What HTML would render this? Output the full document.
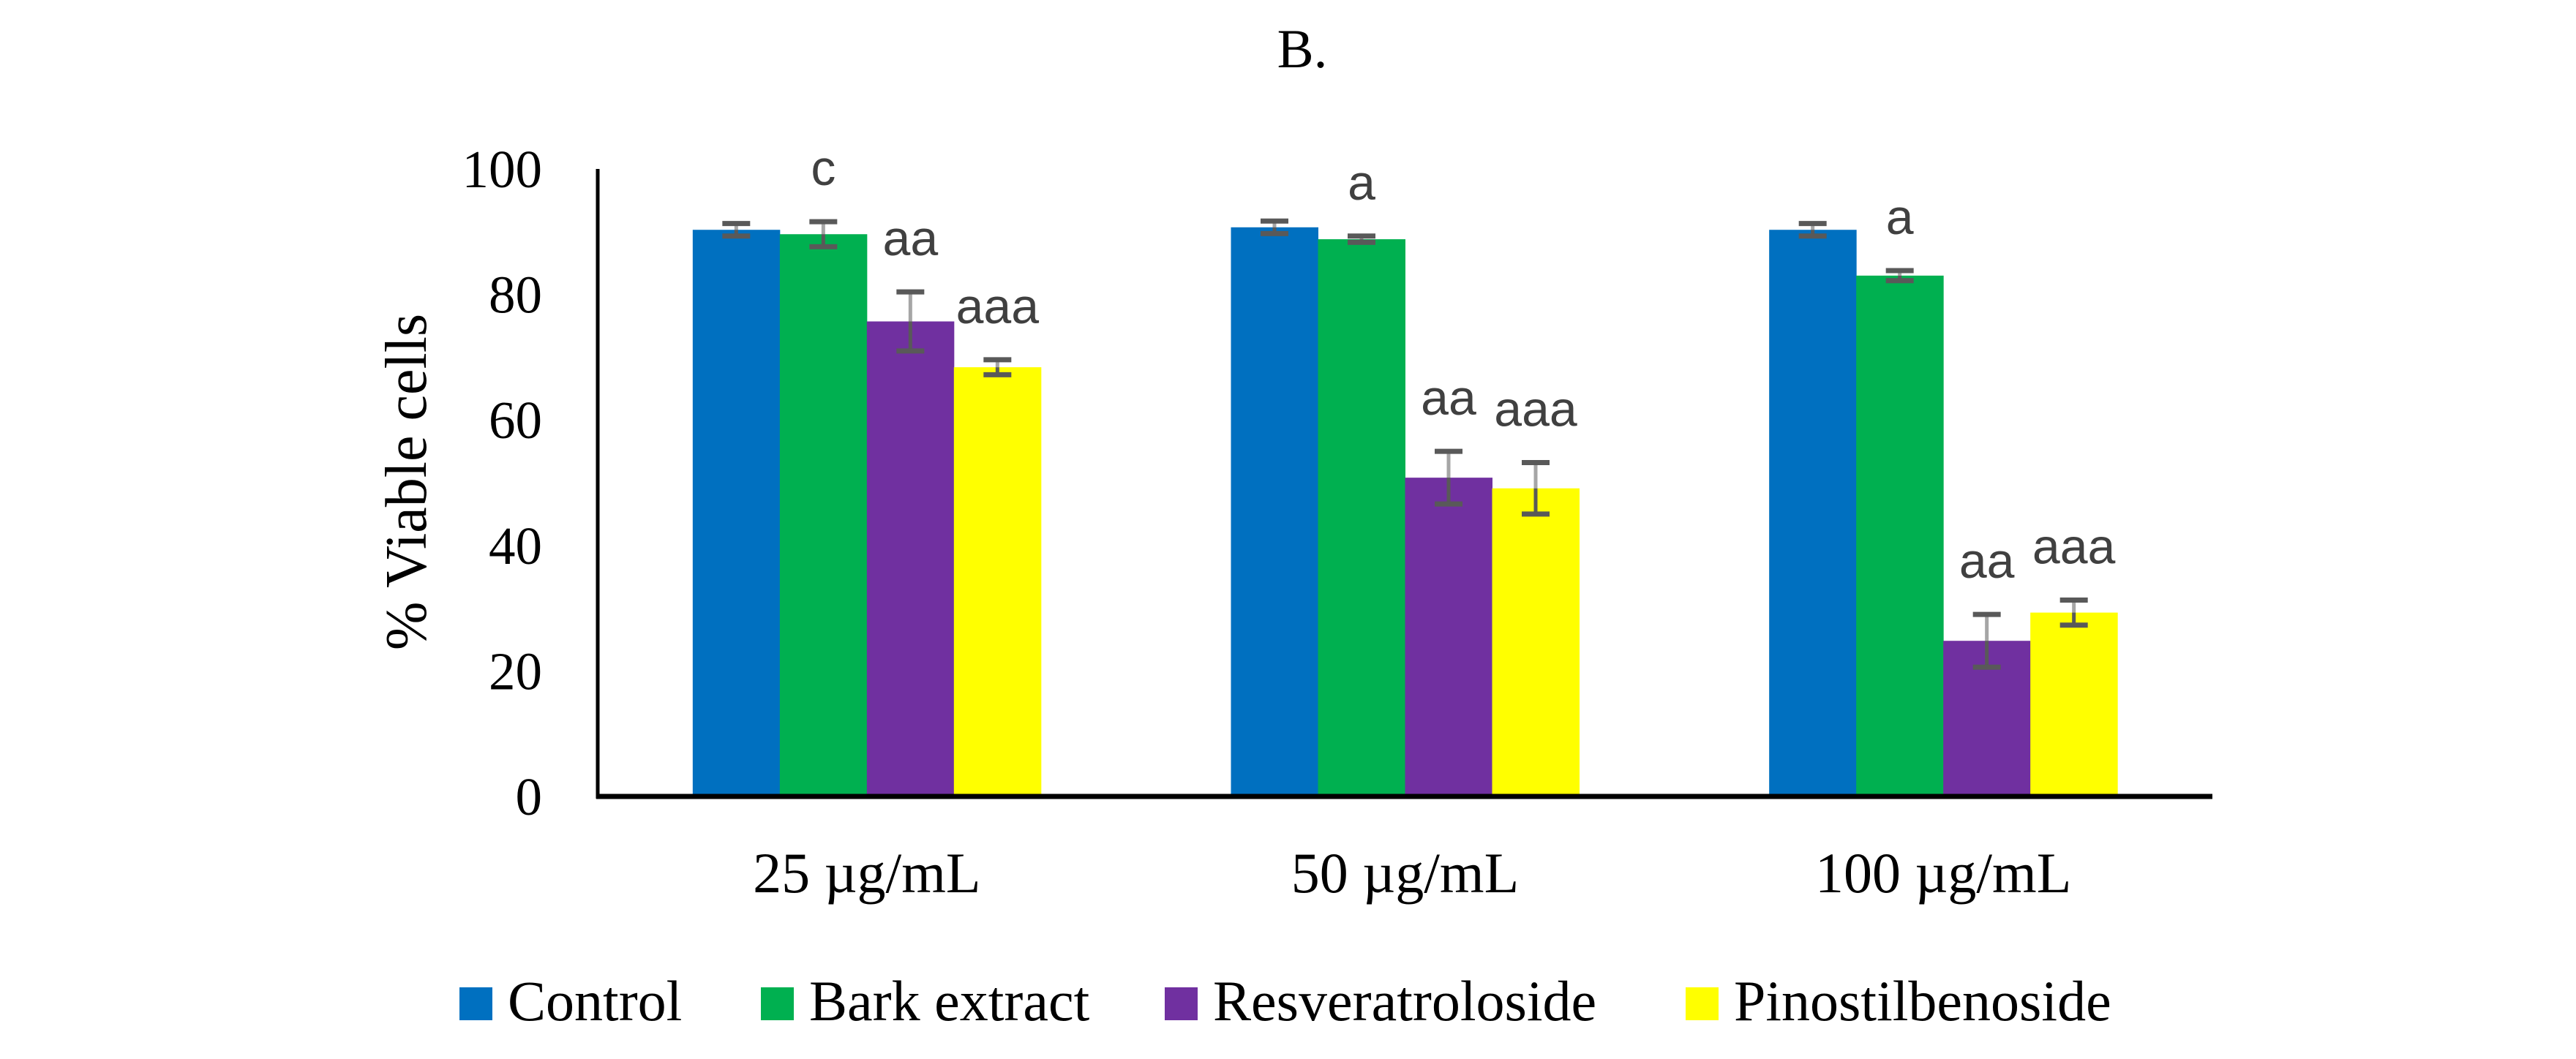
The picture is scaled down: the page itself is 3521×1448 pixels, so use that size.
<!DOCTYPE html>
<html><head><meta charset="utf-8"><style>
html,body{margin:0;padding:0;background:#fff;}
svg{display:block;}
</style></head><body>
<svg id="chart" width="3521" height="1448" viewBox="0 0 3521 1448" xmlns="http://www.w3.org/2000/svg">
<rect width="3521" height="1448" fill="#fff"/>
<text x="1780" y="92" font-family="Liberation Serif, serif" font-size="75" text-anchor="middle">B.</text>
<g id="plot"></g>
</svg>
<script>
const categories = ["25 µg/mL", "50 µg/mL", "100 µg/mL"];
const seriesNames = ["Control", "Bark extract", "Resveratroloside", "Pinostilbenoside"];
const controlValues = [90.3, 90.7, 90.3];
const barkValues = [89.6, 88.8, 83.0];
const resvValues = [75.7, 50.8, 24.8];
const pinoValues = [68.4, 49.1, 29.3];
const controlErr = [1.0, 1.0, 1.0];
const barkErr = [2.0, 0.5, 0.8];
const resvErr = [4.7, 4.2, 4.2];
const pinoErr = [1.2, 4.1, 2.0];
const barkLabels = ["c", "a", "a"];
const resvLabels = ["aa", "aa", "aa"];
const pinoLabels = ["aaa", "aaa", "aaa"];
const yTicks = [0, 20, 40, 60, 80, 100];

const colors = ["#0070c0", "#00b050", "#7030a0", "#ffff00"];
const values = [controlValues, barkValues, resvValues, pinoValues];
const errs = [controlErr, barkErr, resvErr, pinoErr];
const labels = [null, barkLabels, resvLabels, pinoLabels];
const NS = "http://www.w3.org/2000/svg";
const g = document.getElementById("plot");
const X0 = 817, X1 = 3024, Y0 = 1089, Ytop = 231;
const catW = (X1 - X0) / categories.length;
const barW = 119;
const y = v => Y0 - (v / 100) * (Y0 - Ytop);
const xBar = (c, s) => X0 + c * catW + (catW - 4 * barW) / 2 + s * barW;

function mk(tag, attrs) { const e = document.createElementNS(NS, tag); for (const k in attrs) e.setAttribute(k, attrs[k]); g.appendChild(e); return e; }

for (let s = 0; s < 4; s++) {
  for (let c = 0; c < categories.length; c++) {
    const v = values[s][c];
    const r = mk("rect", {x: xBar(c, s), y: y(v), width: barW + 0.5, height: Y0 - y(v), fill: colors[s]});
    
    
  }
}
for (let s = 0; s < 4; s++) {
  for (let c = 0; c < categories.length; c++) {
    const v = values[s][c], e = errs[s][c];
    const cx = xBar(c, s) + barW / 2;
    const eb = document.createElementNS(NS, "g");
    
    
    g.appendChild(eb);
    const add = (tag, a) => { const el = document.createElementNS(NS, tag); for (const k in a) el.setAttribute(k, a[k]); eb.appendChild(el); };
    add("line", {x1: cx, x2: cx, y1: y(v + e), y2: y(v), stroke: "#a6a6a6", "stroke-width": 5});
    add("line", {x1: cx, x2: cx, y1: y(v), y2: y(v - e), stroke: "#595959", "stroke-width": 5});
    add("line", {x1: cx - 19, x2: cx + 19, y1: y(v + e), y2: y(v + e), stroke: "#595959", "stroke-width": 7});
    add("line", {x1: cx - 19, x2: cx + 19, y1: y(v - e), y2: y(v - e), stroke: "#595959", "stroke-width": 7});
  }
}
for (let s = 1; s < 4; s++) {
  for (let c = 0; c < categories.length; c++) {
    const v = values[s][c], e = errs[s][c];
    const cx = xBar(c, s) + barW / 2;
    const t = mk("text", {x: cx, y: y(v + e) - 50, "font-family": "Liberation Sans, sans-serif", "font-size": 68, fill: "#404040", "text-anchor": "middle"});
    t.textContent = labels[s][c];
    
    
  }
}
const ya = mk("line", {x1: X0, x2: X0, y1: Ytop, y2: Y0 + 3, stroke: "#000", "stroke-width": 5});


const xa = mk("line", {x1: X0 - 2, x2: X1, y1: Y0, y2: Y0, stroke: "#000", "stroke-width": 7});


for (const t of yTicks) {
  const tl = mk("text", {x: 741, y: y(t) + 25, "font-family": "Liberation Serif, serif", "font-size": 73, "text-anchor": "end"});
  tl.textContent = t;
  
  
}
for (let c = 0; c < categories.length; c++) {
  const cl = mk("text", {x: X0 + (c + 0.5) * catW, y: 1220, "font-family": "Liberation Serif, serif", "font-size": 78, "text-anchor": "middle"});
  cl.textContent = categories[c];
  
  
}
const yt = mk("text", {x: 0, y: 0, transform: "translate(582,659) rotate(-90)", "font-family": "Liberation Serif, serif", "font-size": 80, "text-anchor": "middle"});
yt.textContent = "% Viable cells";


const legX = [628, 1040, 1592, 2304];
for (let s = 0; s < 4; s++) {
  const sw = mk("rect", {x: legX[s], y: 1350, width: 45, height: 45, fill: colors[s]});
  
  
  const lt = mk("text", {x: legX[s] + 66, y: 1395, "font-family": "Liberation Serif, serif", "font-size": 78});
  lt.textContent = seriesNames[s];
  
  
}
</script>
</body></html>
